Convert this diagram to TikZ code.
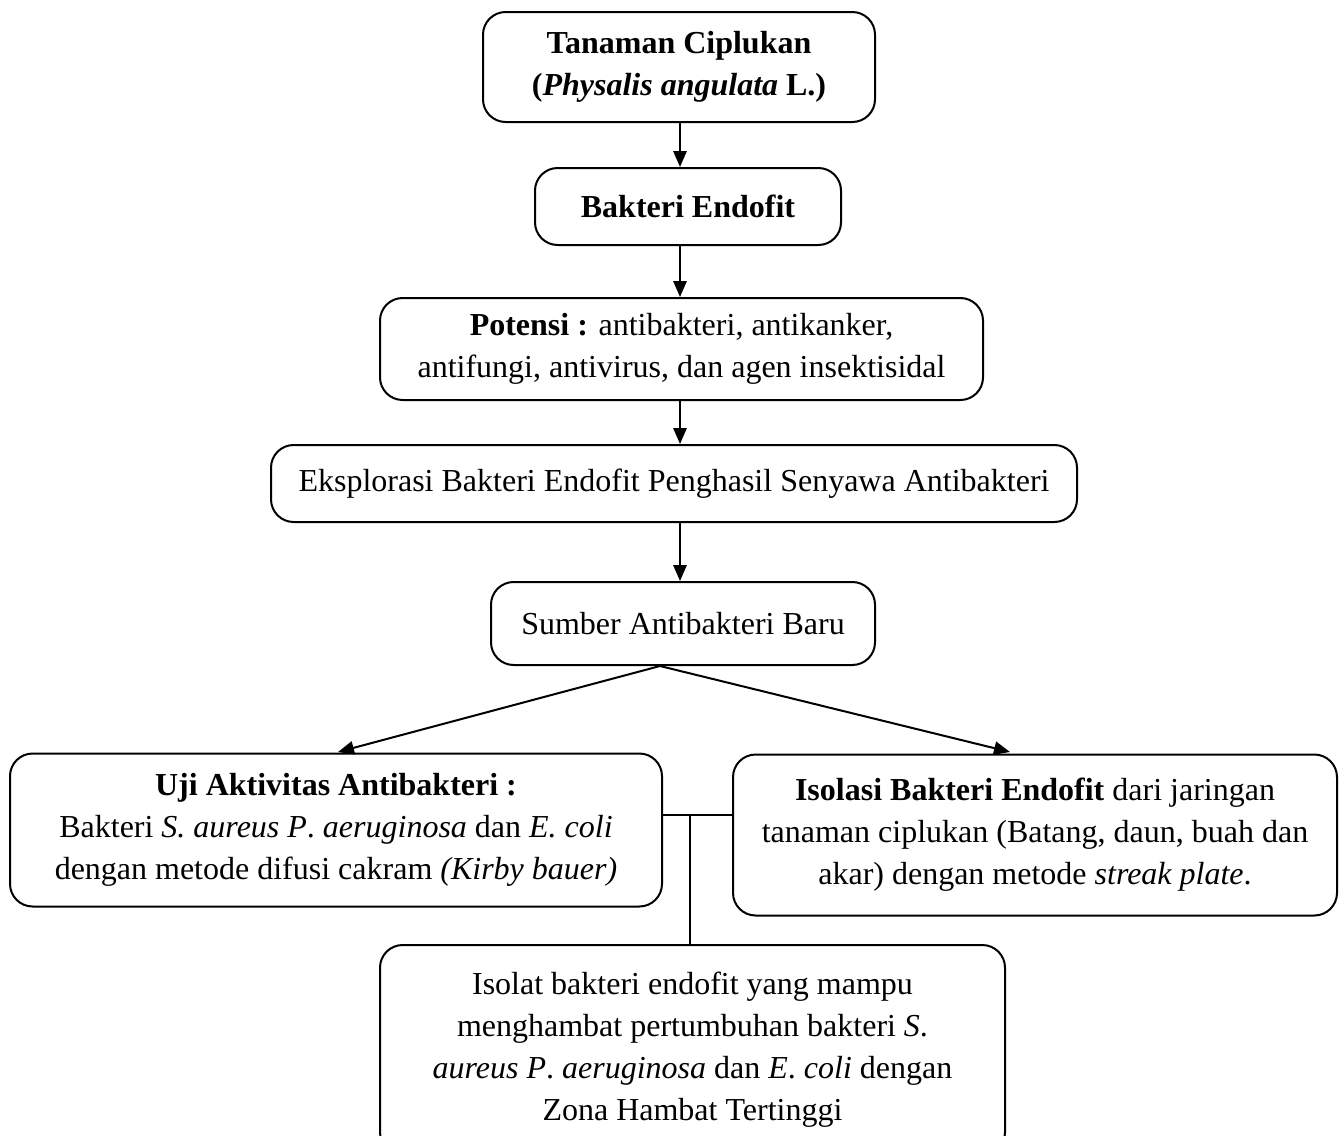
\documentclass[tikz,border=0pt]{standalone}
\usepackage{fontspec}
\setmainfont{Liberation Serif}
\usetikzlibrary{arrows.meta}
\begin{document}
\begin{tikzpicture}[x=0.75pt,y=-0.75pt,
  box/.style={draw,line width=1.5pt,rounded corners=17pt,align=center,inner sep=0pt,
    font=\fontsize{24}{31.5}\selectfont},
  arr/.style={line width=1.5pt,-{Triangle[length=12pt,width=10pt]}},
  thin/.style={line width=0.9pt}]
\useasboundingbox (0,0) rectangle (1344,1135);
\node[box,minimum width=294pt,minimum height=82.5pt] (b1) at (679,67)
  {\textbf{Tanaman Ciplukan}\\\textbf{(\textit{Physalis angulata} L.)}};
\node[box,minimum width=229.5pt,minimum height=57.75pt] (b2) at (688,206.5)
  {\textbf{Bakteri Endofit}};
\node[box,minimum width=452.25pt,minimum height=76.5pt] (b3) at (681.5,349)
  {\textbf{Potensi :} antibakteri, antikanker,\\antifungi, antivirus, dan agen insektisidal};
\node[box,minimum width=604.5pt,minimum height=57.75pt] (b4) at (674,483.5)
  {Eksplorasi Bakteri Endofit Penghasil Senyawa Antibakteri};
\node[box,minimum width=288pt,minimum height=62.25pt] (b5) at (683,623.5)
  {Sumber Antibakteri Baru};
\node[box,minimum width=489pt,minimum height=114.75pt] (b6) at (336,830)
  {\textbf{Uji Aktivitas Antibakteri :}\\Bakteri \textit{S. aureus P}. \textit{aeruginosa} dan \textit{E. coli}\\dengan metode difusi cakram \textit{(Kirby bauer)}};
\node[box,minimum width=453pt,minimum height=120.75pt] (b7) at (1035,835)
  {\textbf{Isolasi Bakteri Endofit} dari jaringan\\tanaman ciplukan (Batang, daun, buah dan\\akar) dengan metode \textit{streak plate}.};
\node[box,minimum width=468.75pt,minimum height=157.5pt] (b8) at (692.5,1050)
  {Isolat bakteri endofit yang mampu\\menghambat pertumbuhan bakteri \textit{S}.\\\textit{aureus P}. \textit{aeruginosa} dan \textit{E}. \textit{coli} dengan\\Zona Hambat Tertinggi};
\coordinate (s5) at (660,666);
\coordinate (l6) at (338,752);
\coordinate (r7) at (1010,752);
\coordinate (j) at (690,815);
\draw[arr] (b1.south -| 680,0) -- (b2.north -| 680,0);
\draw[arr] (b2.south -| 680,0) -- (b3.north -| 680,0);
\draw[arr] (b3.south -| 680,0) -- (b4.north -| 680,0);
\draw[arr] (b4.south -| 680,0) -- (b5.north -| 680,0);
\draw[arr] (s5) -- (l6);
\draw[arr] (s5) -- (r7);
\draw[thin] (b6.east |- j) -- (b7.west |- j);
\draw[thin] (j) -- (b8.north -| j);
\end{tikzpicture}
\end{document}
